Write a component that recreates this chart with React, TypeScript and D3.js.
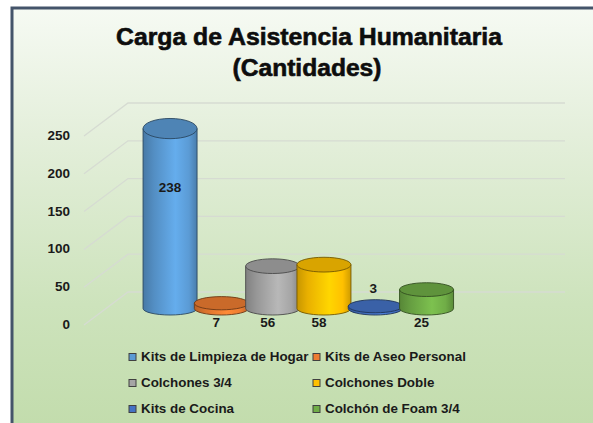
import React from 'react';
import * as d3 from 'd3';

const categories = [
  'Kits de Limpieza de Hogar',
  'Kits de Aseo Personal',
  'Colchones 3/4',
  'Colchones Doble',
  'Kits de Cocina',
  'Colchón de Foam 3/4',
];
const values = [238, 7, 56, 58, 3, 25];
const colors = ['#5b9bd5', '#ed7d31', '#a5a5a5', '#ffc000', '#4472c4', '#70ad47'];
const yTicks = [0, 50, 100, 150, 200, 250];
const labelPlacement = ['inside', 'below', 'below', 'below', 'above', 'below'];
const titleLines = ['Carga de Asistencia Humanitaria', '(Cantidades)'];

const W = 593;
const H = 423;
const FONT = '"Liberation Sans", Arial, sans-serif';

export default function App() {
  // back wall scale
  const yBack = d3.scaleLinear().domain([0, 250]).range([292, 103]);
  const depthDx = 44;
  const depthDy = 33;
  const frontX = 84;
  const backX = frontX + depthDx;
  const wallRight = 565;
  const yFront = (v: number) => yBack(v) + depthDy;
  const yMid = (v: number) => yBack(v) + depthDy / 2;

  const x = d3.scaleBand<string>().domain(categories).range([144.4, 452.2]).padding(0);
  const rx = 27;
  const ryBase = 6.5;

  return (
    <div style={{ position: 'absolute', left: 0, top: 0 }}>
      <svg width={W} height={H} style={{ display: 'block' }}>
        <defs>
          <linearGradient id="bg" x1="0" y1="0" x2="0" y2="1">
            <stop offset="0" stopColor="#f6faf3" />
            <stop offset="0.3" stopColor="#e4efdb" />
            <stop offset="0.7" stopColor="#cde3bc" />
            <stop offset="1" stopColor="#c2dcac" />
          </linearGradient>
          {colors.map((c, i) => {
            const col = d3.color(c)!;
            return (
              <linearGradient key={i} id={`body${i}`} x1="0" y1="0" x2="1" y2="0">
                <stop offset="0" stopColor={col.darker(0.7).formatHex()} />
                <stop offset="0.2" stopColor={col.darker(0.25).formatHex()} />
                <stop offset="0.6" stopColor={col.brighter(0.3).formatHex()} />
                <stop offset="0.85" stopColor={col.formatHex()} />
                <stop offset="1" stopColor={col.darker(0.6).formatHex()} />
              </linearGradient>
            );
          })}
        </defs>
        <rect x={0} y={0} width={W} height={H} fill="#ffffff" />
        <rect x={12} y={8} width={W} height={H} fill="url(#bg)" stroke="#44546a" strokeWidth={3} />

        {/* title */}
        <text x={309} y={45} textAnchor="middle" fontFamily={FONT} fontWeight="bold" fontSize={24.5}
          fill="#0d0d0d" stroke="#0d0d0d" strokeWidth={0.6}
          textLength={386} lengthAdjust="spacingAndGlyphs">{titleLines[0]}</text>
        <text x={307} y={76} textAnchor="middle" fontFamily={FONT} fontWeight="bold" fontSize={24.5}
          fill="#0d0d0d" stroke="#0d0d0d" strokeWidth={0.6}
          textLength={149} lengthAdjust="spacingAndGlyphs">{titleLines[1]}</text>

        {/* gridlines */}
        {yTicks.map((t) => (
          <g key={t}>
            <path
              d={`M${frontX},${yFront(t)} L${backX},${yBack(t)} L${wallRight},${yBack(t)}`}
              fill="none" stroke="#d6dbd2" strokeWidth={1.3} />
            <text x={70} y={yFront(t) + 0.5} textAnchor="end" dominantBaseline="middle"
              fontFamily={FONT} fontWeight="bold" fontSize={13.5} fill="#1a1a1a">{t}</text>
          </g>
        ))}

        {/* cylinders */}
        {values.map((v, i) => {
          const cx = x(categories[i])! + x.bandwidth() / 2;
          const b = yMid(0);
          const t = yMid(v);
          const h = b - t;
          const ryTop = ryBase + h * 0.02;
          const col = d3.color(colors[i])!;
          const stroke = col.darker(2.2).formatHex();
          const body = `M${cx - rx},${t} L${cx - rx},${b} A${rx},${ryBase} 0 0 0 ${cx + rx},${b} L${cx + rx},${t} Z`;
          return (
            <g key={i}>
              <path d={body} fill={`url(#body${i})`} stroke={stroke} strokeWidth={0.9} />
              <ellipse cx={cx} cy={t} rx={rx} ry={ryTop} fill={col.darker(0.45).formatHex()}
                stroke={stroke} strokeWidth={0.9} />
            </g>
          );
        })}

        {/* data labels */}
        {values.map((v, i) => {
          const cx = x(categories[i])! + x.bandwidth() / 2;
          let lx = cx;
          let ly = 0;
          if (labelPlacement[i] === 'inside') {
            ly = yMid(v * 2 / 3);
          } else if (labelPlacement[i] === 'above') {
            lx = cx - 2;
            ly = yMid(v) - 17;
          } else {
            lx = cx - 5;
            ly = yMid(0) + 15;
          }
          return (
            <text key={i} x={lx} y={ly} textAnchor="middle" dominantBaseline="middle"
              fontFamily={FONT} fontWeight="bold" fontSize={13.5} fill="#1a1a1a">{v}</text>
          );
        })}

        {/* legend */}
        {categories.map((c, i) => {
          const col = i % 2;
          const row = Math.floor(i / 2);
          const mx = col === 0 ? 129 : 313;
          const my = 357 + row * 26;
          return (
            <g key={c}>
              <rect x={mx} y={my - 3.5} width={7} height={7} fill={colors[i]} stroke="#404040" strokeWidth={1} />
              <text x={mx + 12} y={my + 0.5} dominantBaseline="middle" fontFamily={FONT} fontWeight="bold"
                fontSize={13.4} fill="#1a1a1a">{c}</text>
            </g>
          );
        })}
      </svg>
    </div>
  );
}
